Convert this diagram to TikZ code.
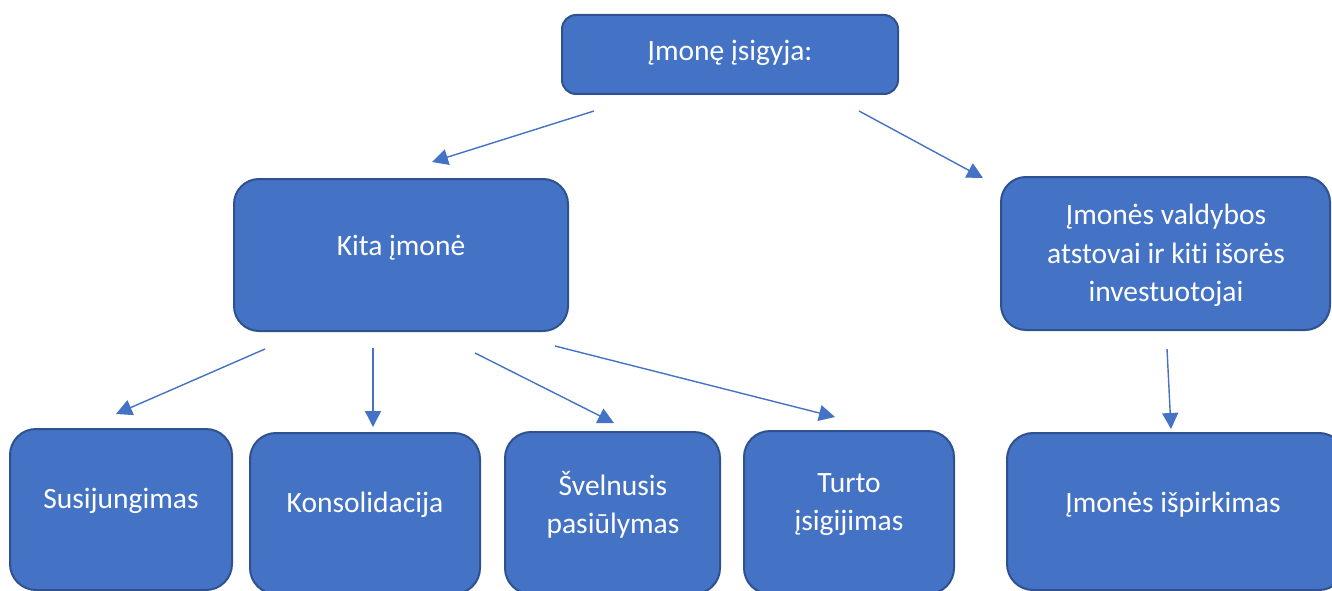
\documentclass[tikz,border=0pt]{standalone}
\usepackage{fontspec}
\setmainfont{Carlito}[Ligatures=NoCommon]
\usetikzlibrary{arrows.meta}
\definecolor{boxfill}{HTML}{4472C4}
\definecolor{boxedge}{HTML}{2F528F}
\definecolor{arrowcol}{HTML}{4472C4}
\tikzset{
  box/.style={draw=boxedge, line width=2pt, fill=boxfill, rectangle,
    inner sep=0pt},
  lbl/.style={text=white, font=\fontsize{29.5}{38.5}\selectfont, align=center,
    inner sep=0pt, anchor=base},
  link/.style={draw=arrowcol, line width=1.4pt,
    -{Triangle[length=16pt,width=16pt]}},
}
\begin{document}
\begin{tikzpicture}[x=1pt,y=-1pt]
\useasboundingbox (0,0) rectangle (1332,591);
% boxes (corners given directly)
\draw[box, rounded corners=14pt] (562,15) rectangle (898,94);
\draw[box, rounded corners=25pt] (234,179) rectangle (568,331);
\draw[box, rounded corners=25pt] (1001,177) rectangle (1330,330);
\draw[box, rounded corners=26pt] (10,429) rectangle (232,590);
\draw[box, rounded corners=26pt] (250,433) rectangle (480,594);
\draw[box, rounded corners=26pt] (505,432) rectangle (720,594);
\draw[box, rounded corners=26pt] (744,431) rectangle (954,594);
\draw[box, rounded corners=26pt] (1007,433) rectangle (1345,590);
% labels
\node[lbl] (tTop) at (730,61) {Įmonę įsigyja:};
\node[lbl] (tKita) at (401,255) {Kita įmonė};
\node[lbl, anchor=north] (tVald) at (1166,204)
  {Įmonės valdybos\\atstovai ir kiti išorės\\investuotojai};
\node[lbl] (tSus) at (121,508) {Susijungimas};
\node[lbl] (tKons) at (365,512) {Konsolidacija};
\node[lbl, anchor=north] (tSvel) at (613,471) {Švelnusis\\pasiūlymas};
\node[lbl, anchor=north] (tTurt) at (849,473) {Turto\\įsigijimas};
\node[lbl] (tIsp) at (1173,512) {Įmonės išpirkimas};
% arrow end points
\coordinate (a1s) at (594,111); \coordinate (a1e) at (432,162);
\coordinate (a2s) at (859,111); \coordinate (a2e) at (983,178);
\coordinate (b1s) at (265,349); \coordinate (b1e) at (116,414);
\coordinate (b2s) at (373,348); \coordinate (b2e) at (373,427);
\coordinate (b3s) at (475,353); \coordinate (b3e) at (614,423);
\coordinate (b4s) at (555,346); \coordinate (b4e) at (835,417);
\coordinate (c1s) at (1167,349); \coordinate (c1e) at (1171,429);
\draw[link] (a1s) -- (a1e);
\draw[link] (a2s) -- (a2e);
\draw[link] (b1s) -- (b1e);
\draw[link] (b2s) -- (b2e);
\draw[link] (b3s) -- (b3e);
\draw[link] (b4s) -- (b4e);
\draw[link] (c1s) -- (c1e);
\end{tikzpicture}
\end{document}
